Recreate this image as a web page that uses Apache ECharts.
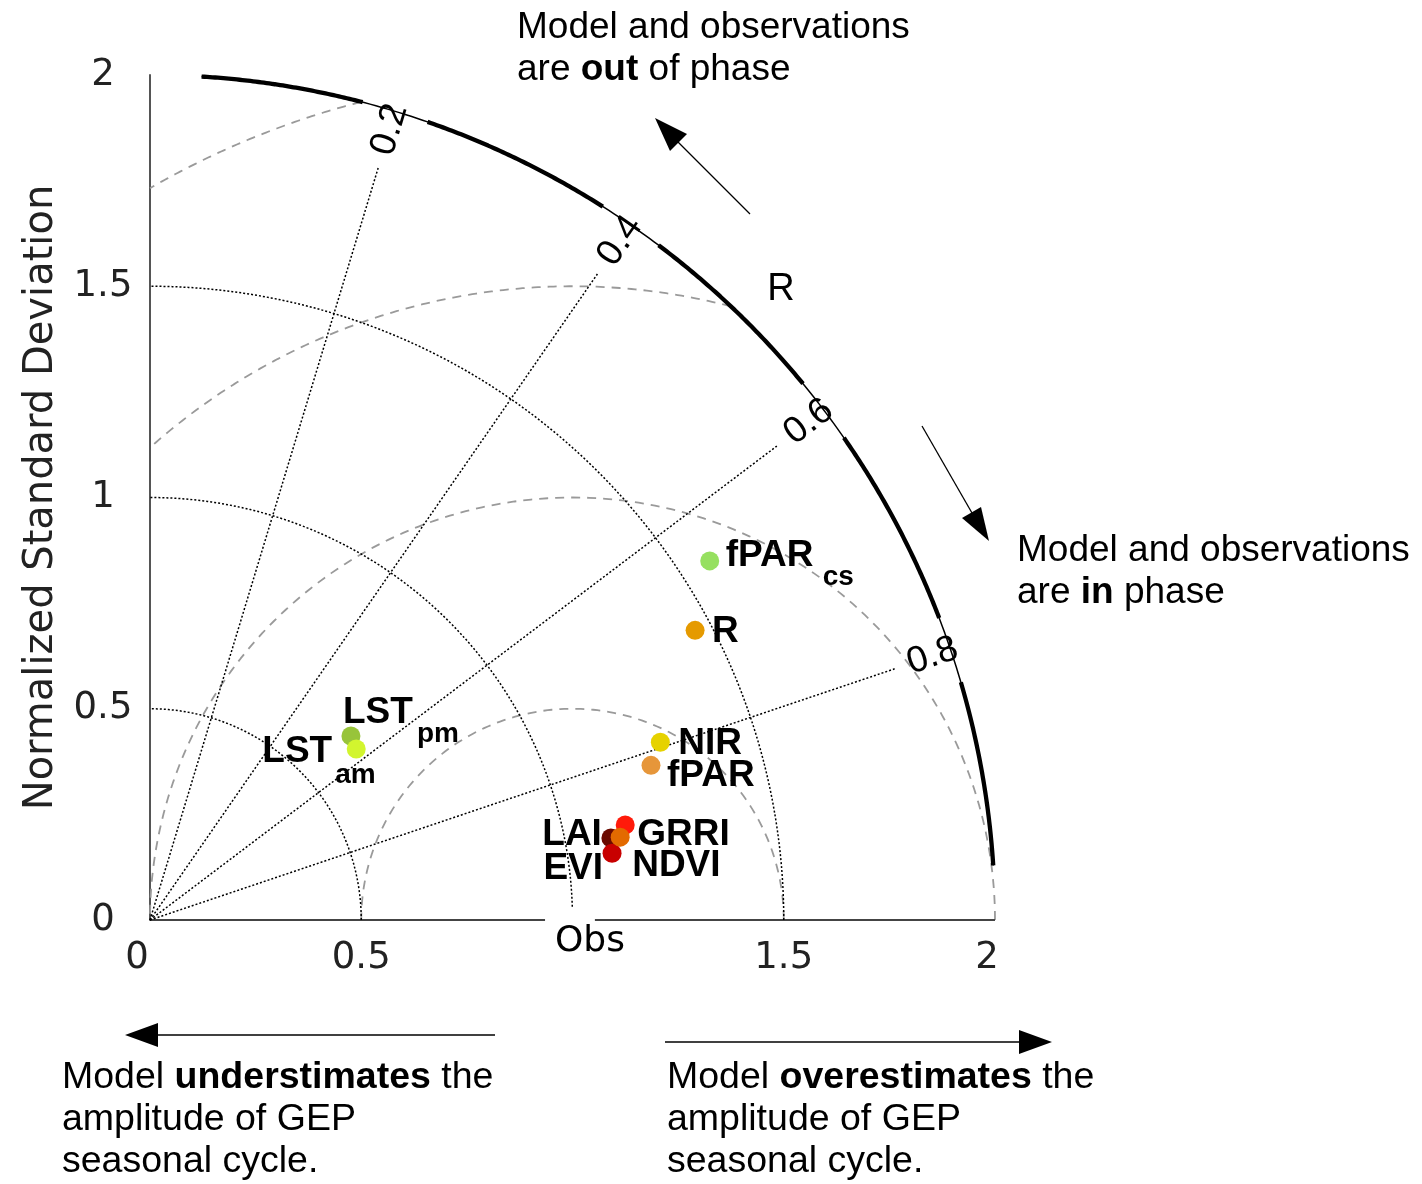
<!DOCTYPE html>
<html><head><meta charset="utf-8">
<script src="https://cdn.jsdelivr.net/npm/echarts@6/dist/echarts.min.js"></script>
<style>html,body{margin:0;padding:0;background:#fff}#c{width:1422px;height:1184px}</style>
</head><body><div id="c"></div>
<script>
// ---------------- data ----------------
const names      = ['fPARcs','R','NIR','fPAR','LAI','GRRI','EVI','NDVI','LSTpm','LSTam'];
const mainLabels = ['fPAR','R','NIR','fPAR','LAI','GRRI','EVI','NDVI','LST','LST'];
const subLabels  = ['cs','','','','','','','','pm','am'];
const stdDev     = [1.574,1.461,1.279,1.241,1.108,1.147,1.105,1.130,0.645,0.634];
const corr       = [0.648,0.699,0.794,0.816,0.892,0.879,0.912,0.893,0.541,0.572];
const colors     = ['#96e060','#e59a00','#e6d200','#e6963a','#6b0a00','#ff1a0a','#c80000','#e36a00','#98c43a','#d2f52e'];
const corrTicks      = [0.2,0.4,0.6,0.8];
const corrTickLabels = ['0.2','0.4','0.6','0.8'];
const stdArcs  = [0.5,1,1.5];
const rmsArcs  = [0.5,1,1.5,2];
const obsStd   = 1;
const stdMax   = 2;

// ---------------- layout / style ----------------
const labelLayout = {
  fPARcs:{main:[16,-5,'left'], sub:[113,16,'left']},
  R:{main:[17,1,'left']},
  NIR:{main:[18,1,'left']},
  fPAR:{main:[16,10,'left']},
  GRRI:{main:[12,10,'left']},
  LAI:{main:[-9,-3,'right']},
  NDVI:{main:[12,29,'left']},
  EVI:{main:[-9,16,'right']},
  LSTpm:{main:[-8,-23,'left'], sub:[66,-2,'left']},
  LSTam:{main:[-24,3,'right'], sub:[-21,26,'left']}
};
const ARIAL = '"Liberation Sans", Arial, sans-serif';
const DEJA = '"DejaVu Sans", sans-serif';
const PX_PER_UNIT = 422.5;     // pixel scale shared by grid and polar
const POLAR_MAX = 2.05;        // a little headroom so the outer arc is not clipped

// correlation -> angle (degrees) used by this diagram
function toAngle(R){ return 90*(1-Math.pow(R,1.04)); }

function range(a,b,n){ const o=[]; for(let i=0;i<=n;i++) o.push(a+(b-a)*i/n); return o; }

const series = [];

// RMSD dashed arcs around the observation point (cartesian)
rmsArcs.forEach(rho=>{
  let c1 = (stdMax*stdMax-obsStd*obsStd-rho*rho)/(2*rho*obsStd); const phiMin = c1>=1?0:Math.acos(c1);
  let c2 = -obsStd/rho; const phiMax = c2<=-1?Math.PI:Math.acos(c2);
  const pts = range(phiMin,phiMax,160).map(p=>[obsStd+rho*Math.cos(p), rho*Math.sin(p)]);
  series.push({type:'line', xAxisIndex:0, yAxisIndex:0, data:pts, showSymbol:false, silent:true, clip:false,
    lineStyle:{color:'#9a9a9a', width:1.8, type:[9,7]}, z:1});
});
// x axis line with gap for "Obs"
[[0,0.935],[1.053,2]].forEach(seg=>{
  series.push({type:'line', xAxisIndex:0, yAxisIndex:0, data:[[seg[0],0],[seg[1],0]], showSymbol:false, silent:true, clip:false,
    lineStyle:{color:'#444', width:2}, z:2});
});
// std-dev dotted arcs (polar)
stdArcs.forEach(r=>{
  series.push({type:'line', coordinateSystem:'polar', clip:false, data:range(r===1?1.8:0,90,180).map(a=>[r,a]), showSymbol:false, silent:true,
    lineStyle:{color:'#000', width:1.5, type:[2,2]}, z:2});
});
// correlation dotted rays
corrTicks.forEach(R=>{
  series.push({type:'line', coordinateSystem:'polar', clip:false, data:[[0,toAngle(R)],[1.86,toAngle(R)]], showSymbol:false, silent:true,
    lineStyle:{color:'#000', width:1.5, type:[2,2]}, z:2});
});
// outer arc: thin full + thick segments with gaps at labels
const arcStart = 3.7, arcEnd = 86.5, gap = 2.3;
series.push({type:'line', coordinateSystem:'polar', clip:false, data:range(arcStart,arcEnd,200).map(a=>[stdMax,a]), showSymbol:false, silent:true,
  lineStyle:{color:'#000', width:1.5}, z:3});
const bounds = [arcStart];
corrTicks.slice().reverse().forEach(R=>{ bounds.push(toAngle(R)-gap); bounds.push(toAngle(R)+gap); });
bounds.push(arcEnd);
const thickData = [];
for(let i=0;i<bounds.length;i+=2){
  range(bounds[i],bounds[i+1],60).forEach(a=>thickData.push([stdMax,a]));
  if(i+2<bounds.length) thickData.push(['-','-']);
}
series.push({type:'line', coordinateSystem:'polar', clip:false, connectNulls:false, data:thickData, showSymbol:false, silent:true,
  lineStyle:{color:'#000', width:4.3, cap:'butt'}, z:4});

// correlation tick labels
series.push({type:'scatter', coordinateSystem:'polar', symbolSize:0, silent:true, z:5, clip:false,
  itemStyle:{opacity:1},
  data:corrTicks.map((R,i)=>({value:[1.955,toAngle(R)], label:{rotate:toAngle(R), formatter:corrTickLabels[i]}})),
  label:{show:true, position:'inside', align:'center', verticalAlign:'middle', fontFamily:ARIAL, fontSize:37, color:'#000', opacity:1}});
// data points
series.push({type:'scatter', coordinateSystem:'polar', symbolSize:19, z:10, clip:false,
  itemStyle:{opacity:1},
  data:names.map((n,i)=>{
    const L = labelLayout[n].main;
    return {value:[stdDev[i], toAngle(corr[i])], itemStyle:{color:colors[i], opacity:1},
      label:{formatter:mainLabels[i], offset:[L[0],L[1]], align:L[2]}};
  }),
  label:{show:true, position:'inside', verticalAlign:'middle', fontFamily:ARIAL, fontWeight:'bold', fontSize:37, color:'#000', opacity:1, textBorderWidth:0}
});
// subscripts
series.push({type:'scatter', coordinateSystem:'polar', symbolSize:0, z:11, silent:true, clip:false,
  itemStyle:{opacity:1},
  data:names.map((n,i)=>{
    const L = labelLayout[n].sub || [0,0,'left'];
    return {value:[stdDev[i], toAngle(corr[i])],
      label:{show:!!subLabels[i], formatter:subLabels[i] || ' ', offset:[L[0],L[1]], align:L[2]}};
  }),
  label:{position:'inside', verticalAlign:'middle', fontFamily:ARIAL, fontWeight:'bold', fontSize:28, color:'#000', opacity:1, textBorderWidth:0}
});

function txt(x,y,text,opt){
  opt = opt||{};
  return {type:'text', z:20, silent:true, style:{x:x, y:y, text:text, fontFamily:opt.ff||ARIAL, fontSize:opt.fs||37,
    fill:'#000', textAlign:opt.align||'left', textVerticalAlign:'middle',
    rich:{b:{fontWeight:'bold', fontFamily:opt.ff||ARIAL, fontSize:opt.fs||37, fill:'#000'}, n:{fontFamily:opt.ff||ARIAL, fontSize:opt.fs||37, fill:'#000'}}}};
}
function arrow(x1,y1,bx,by,tip,c1,c2){
  return [
    {type:'line', silent:true, z:20, shape:{x1:x1,y1:y1,x2:bx,y2:by}, style:{stroke:'#000', lineWidth:1.3}},
    {type:'polygon', silent:true, z:20, shape:{points:[tip,c1,c2]}, style:{fill:'#000'}}
  ];
}

const graphic = [
  txt(590,942,'Obs',{ff:DEJA, fs:36, align:'center'}),
  txt(781,290,'R',{fs:38, align:'center'}),
  txt(517,28,'{n|Model and observations}'),
  txt(517,70,'{n|are }{b|out}{n| of phase}'),
  txt(1017,551,'{n|Model and observations}'),
  txt(1017,593,'{n|are }{b|in}{n| phase}'),
  txt(62,1078,'{n|Model }{b|understimates}{n| the}',{fs:37.5}),
  txt(62,1120,'{n|amplitude of GEP}',{fs:37.5}),
  txt(62,1162,'{n|seasonal cycle.}',{fs:37.5}),
  txt(667,1078,'{n|Model }{b|overestimates}{n| the}',{fs:37.5}),
  txt(667,1120,'{n|amplitude of GEP}',{fs:37.5}),
  txt(667,1162,'{n|seasonal cycle.}',{fs:37.5})
].concat(
  arrow(750,214,678,142,[655,118],[670,151],[687,134]),
  arrow(922,426,972,513,[989,541],[962,518],[981,507]),
  arrow(495,1035,158,1035,[125,1035],[158,1023],[158,1047]),
  arrow(665,1042,1019,1042,[1052,1042],[1019,1030],[1019,1054])
);

const option = {
  animation:false,
  backgroundColor:'#fff',
  grid:{left:150, top:75, width:845, height:845, containLabel:false},
  xAxis:{type:'value', min:0, max:stdMax, interval:0.5,
    axisLine:{show:false}, axisTick:{show:false}, splitLine:{show:false},
    axisLabel:{margin:20, fontFamily:DEJA, fontSize:37, color:'#222',
      formatter:v=> v===0?'{l|0}': v===2?'{r|2}': v===1?'': String(v),
      rich:{l:{padding:[0,26,0,0], fontFamily:DEJA, fontSize:37, color:'#222'}, r:{padding:[0,16,0,0], fontFamily:DEJA, fontSize:37, color:'#222'}}}},
  yAxis:{type:'value', min:0, max:stdMax, interval:0.5,
    axisLine:{show:true, lineStyle:{color:'#555', width:2}}, axisTick:{show:false}, splitLine:{show:false},
    axisLabel:{margin:47, align:'center', fontFamily:DEJA, fontSize:37, color:'#222'},
    name:'Normalized Standard Deviation', nameLocation:'middle', nameGap:88, nameRotate:90,
    nameTextStyle:{fontFamily:DEJA, fontSize:40, color:'#222'}},
  polar:{center:[150,920], radius:POLAR_MAX*PX_PER_UNIT},
  angleAxis:{type:'value', min:0, max:360, startAngle:0, clockwise:false, show:false},
  radiusAxis:{type:'value', min:0, max:POLAR_MAX, show:false},
  series:series,
  graphic:graphic
};
const chart = echarts.init(document.getElementById('c'), null, {renderer:'canvas'});
chart.setOption(option);
</script></body></html>
